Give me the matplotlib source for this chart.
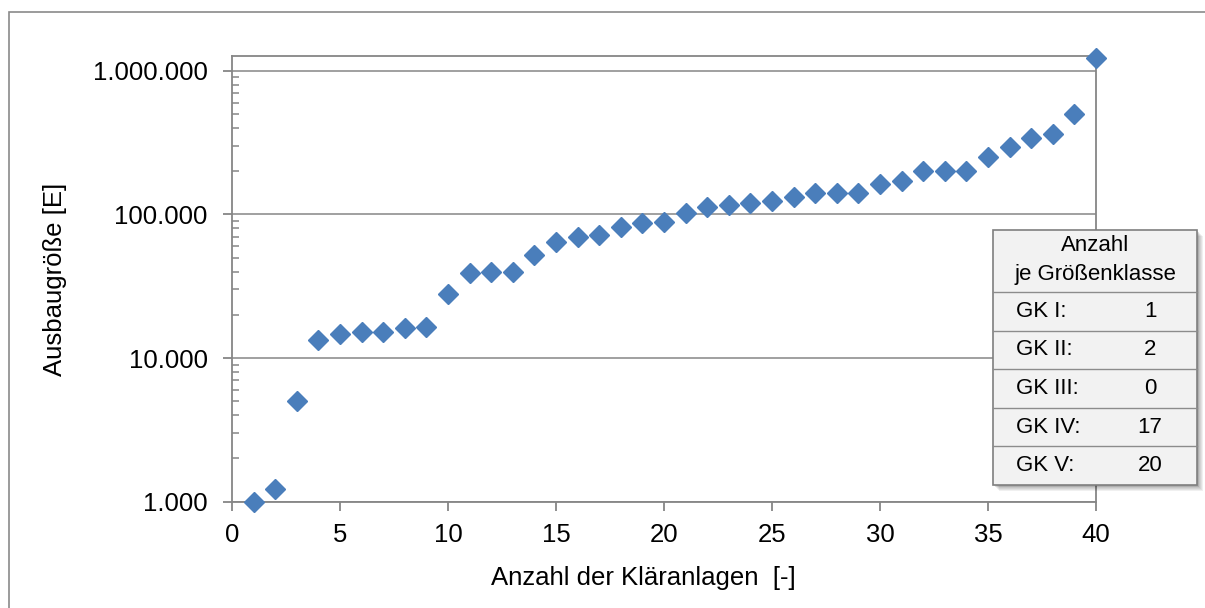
import numpy as np
import matplotlib
matplotlib.use("Agg")
import matplotlib.pyplot as plt
from matplotlib.patches import Rectangle
from matplotlib.ticker import FixedLocator, FuncFormatter, LogLocator, NullFormatter

plt.rcParams['font.family'] = ['Liberation Sans', 'DejaVu Sans']

# Ausbaugröße der Kläranlagen, aufsteigend sortiert
anlage = np.arange(1, 41)
ausbau = [1000, 1220, 5000, 13300, 14600, 15100, 15100, 16100, 16500, 27900,
          38800, 39800, 39800, 51900, 64500, 69200, 71800, 81300, 87500, 88800,
          102000, 112000, 116000, 120500, 124000, 132000, 140000, 140000, 140000, 162000,
          171000, 201000, 201000, 201000, 252000, 295000, 338000, 360000, 499000, 1220000]

x_ticks = [0, 5, 10, 15, 20, 25, 30, 35, 40]
y_ticks = [1000, 10000, 100000, 1000000]

gk_namen = ["GK I:", "GK II:", "GK III:", "GK IV:", "GK V:"]
gk_anzahl = [1, 2, 0, 17, 20]

W, H = 1205, 608
fig = plt.figure(figsize=(W / 100, H / 100), dpi=100)

grau = '#868686'
blau = '#4A7EBB'
fs = 18.5

# Rahmen um das Diagramm
fig.add_artist(Rectangle((9 / W, -0.1), 1.1, 1.1 - 12 / H, transform=fig.transFigure,
                         fill=False, edgecolor='#8a8a8a', lw=1.2))

ax = fig.add_axes([232 / W, 1 - 501.7 / H, (1096 - 232) / W, (501.7 - 56) / H])
ax.set_yscale('log')
ax.plot(anlage, ausbau, 'D', ms=10, color=blau, mec=blau, clip_on=False, zorder=3)

ax.set_xlim(0, 40)
ax.set_ylim(1000, 1.265e6)
ax.xaxis.set_major_locator(FixedLocator(x_ticks))
ax.yaxis.set_major_locator(FixedLocator(y_ticks))
ax.yaxis.set_major_formatter(FuncFormatter(lambda v, p: f"{int(round(v)):,}".replace(',', '.')))
ax.yaxis.set_minor_locator(LogLocator(base=10, subs=np.arange(2, 10)))
ax.yaxis.set_minor_formatter(NullFormatter())

ax.grid(axis='y', which='major', color=grau, lw=1.1)
ax.set_axisbelow(True)
for s in ax.spines.values():
    s.set_color(grau)
    s.set_linewidth(1.3)

ax.tick_params(axis='both', which='major', direction='out', length=6.5, width=1.3,
               color=grau, labelsize=fs, labelcolor='black')
ax.tick_params(axis='y', which='major', pad=11)
ax.tick_params(axis='x', which='major', pad=9)
ax.tick_params(axis='y', which='minor', direction='in', length=5, width=1.1, color=grau)

fig.text(55 / W, 1 - 279 / H, "Ausbaugröße [E]", rotation=90, ha='center', va='center', fontsize=fs)
fig.text(643 / W, 1 - 578 / H, "Anzahl der Kläranlagen  [-]", ha='center', va='center', fontsize=fs)

# Tabelle: Anzahl je Größenklasse
tl, tr, tt, tb = 993, 1197, 230, 485
tab = fig.add_axes([tl / W, 1 - tb / H, (tr - tl) / W, (tb - tt) / H])
tab.set_xlim(tl, tr)
tab.set_ylim(tb, tt)
tab.axis('off')
for k in range(1, 8):
    tab.add_patch(Rectangle((tl + k * 0.8, tt + k * 0.8), tr - tl, tb - tt, facecolor='black',
                            edgecolor='none', alpha=0.06, clip_on=False, zorder=1))
tab.add_patch(Rectangle((tl, tt), tr - tl, tb - tt, facecolor='#F2F2F2', edgecolor='#7f7f7f',
                        lw=1.2, clip_on=False, zorder=2))

kopf_unten = 292
zeile = (tb - kopf_unten) / len(gk_namen)
tab.text((tl + tr) / 2, 245, "Anzahl", ha='center', va='center', fontsize=16, zorder=4)
tab.text((tl + tr) / 2, 274, "je Größenklasse", ha='center', va='center', fontsize=16, zorder=4)
for i, (name, n) in enumerate(zip(gk_namen, gk_anzahl)):
    y0 = kopf_unten + i * zeile
    tab.plot([tl, tr], [y0, y0], color='#8c8c8c', lw=1.0, zorder=3, clip_on=False)
    tab.text(1016, y0 + zeile / 2, name, ha='left', va='center', fontsize=16, zorder=4)
    tab.text(1150, y0 + zeile / 2, str(n), ha='center', va='center', fontsize=16, zorder=4)

fig.savefig("out.png", dpi=100)
